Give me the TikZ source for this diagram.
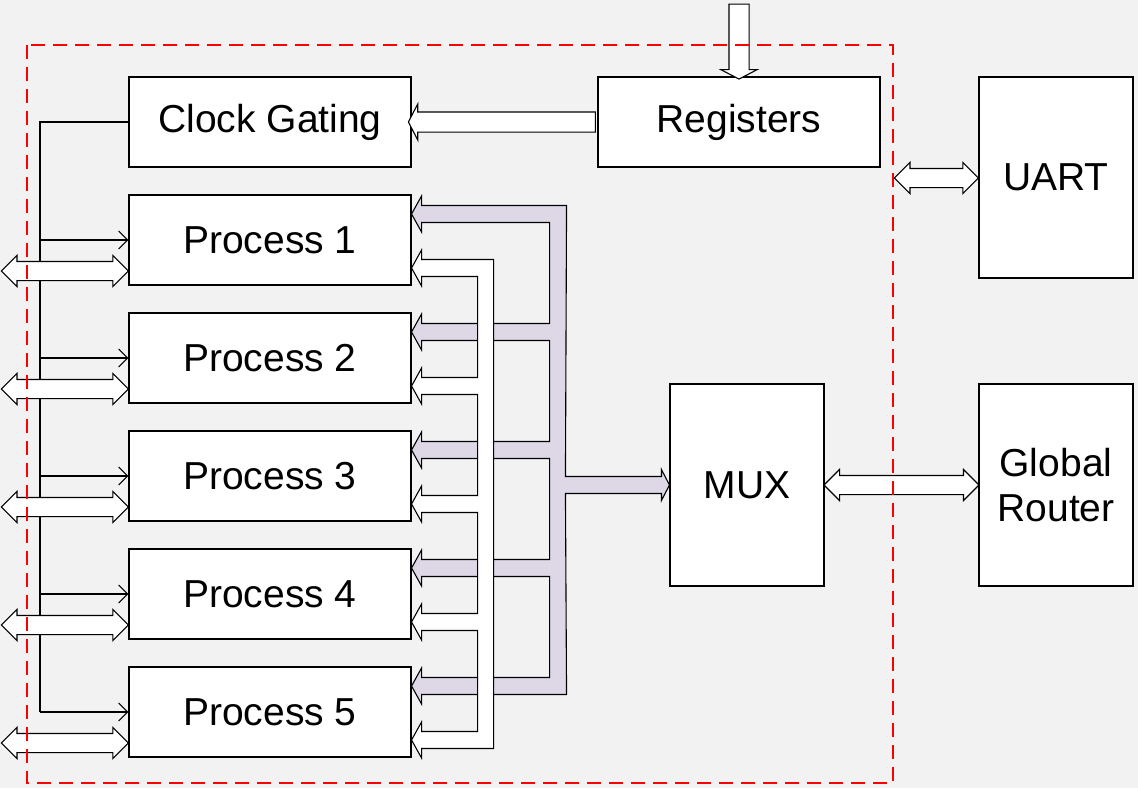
\documentclass[tikz,border=0pt]{standalone}
\usepackage{fontspec}
\setmainfont{Liberation Sans}
\usetikzlibrary{shapes.arrows,arrows.meta,calc}
\definecolor{bg}{HTML}{F2F2F2}
\definecolor{bus}{RGB}{221,215,230}
\begin{document}
\begin{tikzpicture}[x=1pt,y=-1pt,line width=1.1pt,blk/.style={draw,fill=white,minimum
					width=282pt,minimum height=90pt,inner sep=0pt,font=\fontsize{39}{45}\selectfont},tall/.style={blk,minimum
					width=154pt,minimum height=202pt,align=center},sarr/.style={draw,fill=white,single arrow,single arrow
					head extend=8pt,single arrow tip angle=125,inner xsep=0pt,inner ysep=9.5pt},darr/.style={draw,fill=white,double
					arrow,double arrow head extend=6pt,inner xsep=0pt,inner ysep=9pt},clk/.style={-{Straight Barb[length=9pt,width=18pt]}}]
		\useasboundingbox (0,0) rectangle (1138,788);
		\fill[bg] (0,0) rectangle (1138,788);
		\node[blk] (cg) at (270,122) {Clock Gating};
		\node[blk] (reg) at (739,122) {Registers};
		\foreach \i in {1,...,5}
			\node[blk] (p\i) at (270,122+118*\i) {Process \i};
		\node[tall] (mux) at (747,485) {MUX};
		\node[tall,minimum height=201pt] (uart) at (1056,177.5) {UART};
		\node[tall] (gr) at (1056,485) {Global\\Router};
		\filldraw[fill=bus] ($(p1.east)+(155,-34.5)$) -- ($(mux.west)+(-104,-8.5)$) -- ($(mux.west)+(-8,-8.5)$)
			-- ($(mux.west)+(-8,-15.5)$) -- (mux.west) -- ($(mux.west)+(-8,15.5)$) -- ($(mux.west)+(-8,8.5)$)
			-- ($(mux.west)+(-104,8.5)$) -- ($(p5.east)+(155,-17.5)$)
			\foreach \i in {5,...,1} {
				-- ($(p\i.east)+(138,-17.5)$) -- ($(p\i.east)+(10,-17.5)$) -- ($(p\i.east)+(10,-8)$) -- ($(p\i.east)+(0,-26)$)
				-- ($(p\i.east)+(10,-44)$) -- ($(p\i.east)+(10,-34.5)$) -- ($(p\i.east)+(138,-34.5)$)
			} -- cycle;
		\filldraw[fill=white] ($(p1.east)+(82,19.5)$) -- ($(p5.east)+(82,36.5)$)
			\foreach \i in {5,...,1} {
				-- ($(p\i.east)+(66,36.5)$) -- ($(p\i.east)+(10,36.5)$) -- ($(p\i.east)+(10,46)$) -- ($(p\i.east)+(0,28)$)
				-- ($(p\i.east)+(10,10)$) -- ($(p\i.east)+(10,19.5)$) -- ($(p\i.east)+(66,19.5)$)
			} -- cycle;
		\coordinate (ck) at (40,0);
		\draw (cg.west) -| (ck |- p5.west);
		\foreach \i in {1,...,5} {
			\draw[clk] (ck |- p\i.west) -- (p\i.west);
			\node[darr,minimum height=127pt] (io\i) at ($(p\i.west)+(-63.5,31)$) {};
		}
		\node[sarr,rotate=180,minimum height=187pt] (r2c) at ($(reg.west)!.5!(cg.east)$) {};
		\node[sarr,rotate=-90,minimum height=75pt] (rin) at ($(reg.north)+(0,-37.5)$) {};
		\node[darr,minimum height=84pt] (ua) at ($(uart.west)+(-42,0.5)$) {};
		\node[darr,minimum height=155pt] (mg) at ($(mux.east)!.5!(gr.west)$) {};
		\draw[red,line width=2pt,dash pattern=on 14pt off 8pt] (27,45) rectangle (893,783);
	\end{tikzpicture}
\end{document}
